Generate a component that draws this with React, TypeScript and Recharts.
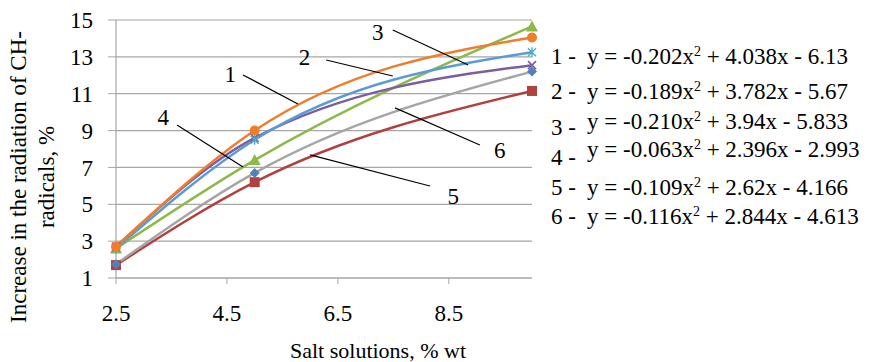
import {
  CartesianGrid,
  Line,
  LineChart,
  ReferenceDot,
  ReferenceLine,
  XAxis,
  YAxis,
} from 'recharts';

// salt concentration, % wt
const SALT = [2.5, 5, 10];

// increase in CH-radical radiation, %
const CURVE_1 = [2.7, 9.0, 14.05];
const CURVE_2 = [2.6, 8.5, 13.25];
const CURVE_3 = [2.7, 8.6, 12.55];
const CURVE_4 = [2.6, 7.4, 14.65];
const CURVE_5 = [1.7, 6.2, 11.15];
const CURVE_6 = [1.75, 6.7, 12.2];

const X_TICKS = [2.5, 4.5, 6.5, 8.5];
const Y_TICKS = [1, 3, 5, 7, 9, 11, 13, 15];

const EQUATIONS = [
  ['-0.202', '4.038', '6.13'],
  ['-0.189', '3.782', '5.67'],
  ['-0.210', '3.94', '5.833'],
  ['-0.063', '2.396', '2.993'],
  ['-0.109', '2.62', '4.166'],
  ['-0.116', '2.844', '4.613'],
];

const FONT = 'Liberation Serif, Times, serif';
const GRID = '#A6A6A6';

const data = SALT.map((x, i) => ({
  x,
  c1: CURVE_1[i],
  c2: CURVE_2[i],
  c3: CURVE_3[i],
  c4: CURVE_4[i],
  c5: CURVE_5[i],
  c6: CURVE_6[i],
}));

// callout leader lines and their numbers (data coordinates)
const CALLOUTS = [
  { n: '1', at: [4.56, 12.1], from: [4.79, 12.02], to: [5.78, 10.44] },
  { n: '2', at: [5.9, 12.98], from: [6.29, 12.83], to: [7.49, 11.96] },
  { n: '3', at: [7.22, 14.38], from: [7.49, 14.46], to: [8.85, 12.56] },
  { n: '4', at: [3.35, 9.74], from: [3.6, 9.3], to: [4.79, 7.02] },
  { n: '5', at: [8.58, 5.45], from: [6.0, 7.68], to: [8.16, 5.99] },
  { n: '6', at: [9.42, 7.95], from: [7.53, 10.23], to: [9.06, 8.22] },
];

type Shape = 'circle' | 'star' | 'x' | 'triangle' | 'square' | 'diamond';

function marker(shape: Shape, color: string) {
  return (props: any) => {
    const { cx, cy, index } = props;
    const k = `m-${shape}-${index}`;
    if (cx == null || cy == null) return <g key={k} />;
    switch (shape) {
      case 'circle':
        return <circle key={k} cx={cx} cy={cy} r={5} fill={color} />;
      case 'square':
        return <rect key={k} x={cx - 5} y={cy - 5} width={10} height={10} fill={color} />;
      case 'triangle':
        return (
          <polygon
            key={k}
            points={`${cx},${cy - 6} ${cx + 6},${cy + 5} ${cx - 6},${cy + 5}`}
            fill={color}
          />
        );
      case 'diamond':
        return (
          <polygon
            key={k}
            points={`${cx},${cy - 5} ${cx + 5},${cy} ${cx},${cy + 5} ${cx - 5},${cy}`}
            fill={color}
          />
        );
      case 'x':
        return (
          <path
            key={k}
            d={`M${cx - 4},${cy - 4}L${cx + 4},${cy + 4}M${cx + 4},${cy - 4}L${cx - 4},${cy + 4}`}
            stroke={color}
            strokeWidth={1.6}
          />
        );
      default:
        return (
          <path
            key={k}
            d={`M${cx - 4},${cy - 4}L${cx + 4},${cy + 4}M${cx + 4},${cy - 4}L${cx - 4},${cy + 4}M${cx},${cy - 5}L${cx},${cy + 5}`}
            stroke={color}
            strokeWidth={1.4}
          />
        );
    }
  };
}

function YTitle() {
  return (
    <text
      transform="translate(26,177) rotate(-90)"
      textAnchor="middle"
      fontFamily={FONT}
      fontSize={23}
      fill="#000"
    >
      <tspan x={0} dy={0}>Increase in the radiation of CH-</tspan>
      <tspan x={0} dy={28}>radicals, %</tspan>
    </text>
  );
}

const EQ_Y = [57, 92, 122, 150, 188, 217];
const NUM_Y = [57, 92, 128, 158, 188, 217];

export default function App() {
  const lineProps = { type: 'monotone' as const, strokeWidth: 2.5, isAnimationActive: false };
  return (
    <div style={{ position: 'absolute', left: 0, top: 0, width: 870, height: 362, background: '#fff' }}>
      <LineChart
        width={870}
        height={362}
        data={data}
        margin={{ top: 20, right: 338, bottom: 0, left: 0 }}
      >
        <CartesianGrid stroke={GRID} strokeWidth={1.2} vertical={false} />
        <XAxis
          dataKey="x"
          type="number"
          domain={[2.5, 10]}
          ticks={X_TICKS}
          height={84}
          tickSize={6}
          tickMargin={21}
          stroke={GRID}
          axisLine={{ stroke: GRID, strokeWidth: 1.2 }}
          tick={{ fontSize: 23, fill: '#000', fontFamily: FONT }}
          label={{
            value: 'Salt solutions, % wt',
            position: 'insideBottom',
            offset: 4,
            dx: 54,
            fontSize: 22,
            fill: '#000',
            fontFamily: FONT,
          }}
        />
        <YAxis
          type="number"
          domain={[1, 15]}
          ticks={Y_TICKS}
          width={116}
          tickSize={8}
          tickMargin={15}
          stroke={GRID}
          axisLine={{ stroke: GRID, strokeWidth: 1.2 }}
          tick={{ fontSize: 23, fill: '#000', fontFamily: FONT }}
          label={<YTitle />}
        />
        <Line {...lineProps} dataKey="c5" stroke="#B0413E" dot={marker('square', '#B0413E')} />
        <Line {...lineProps} dataKey="c6" stroke="#A5A5A5" dot={marker('diamond', '#4F81BD')} />
        <Line {...lineProps} dataKey="c4" stroke="#8DB94B" dot={marker('triangle', '#8DB94B')} />
        <Line {...lineProps} dataKey="c3" stroke="#7B5DA0" dot={marker('x', '#7B5DA0')} />
        <Line {...lineProps} dataKey="c2" stroke="#5B9BD5" dot={marker('star', '#4BACC6')} />
        <Line {...lineProps} dataKey="c1" stroke="#F07D2C" dot={marker('circle', '#F07D2C')} />
        {CALLOUTS.map((c) => (
          <ReferenceLine
            key={`l${c.n}`}
            segment={[
              { x: c.from[0], y: c.from[1] },
              { x: c.to[0], y: c.to[1] },
            ]}
            stroke="#000"
            strokeWidth={1.2}
          />
        ))}
        {CALLOUTS.map((c) => (
          <ReferenceDot
            key={`t${c.n}`}
            x={c.at[0]}
            y={c.at[1]}
            r={0}
            fill="none"
            stroke="none"
            label={{ value: c.n, position: 'center', fontSize: 23, fill: '#000', fontFamily: FONT }}
          />
        ))}
      </LineChart>
      {EQUATIONS.map((eq, i) => (
        <div key={i} style={{ fontFamily: FONT, fontSize: 23, lineHeight: '23px', color: '#000', whiteSpace: 'pre' }}>
          <div style={{ position: 'absolute', left: 551, top: NUM_Y[i] - 12 }}>{`${i + 1} -`}</div>
          <div style={{ position: 'absolute', left: 587, top: EQ_Y[i] - 12 }}>
            {`y = ${eq[0]}x`}
            <span style={{ fontSize: 14, position: 'relative', top: -8 }}>2</span>
            {` + ${eq[1]}x - ${eq[2]}`}
          </div>
        </div>
      ))}
    </div>
  );
}
